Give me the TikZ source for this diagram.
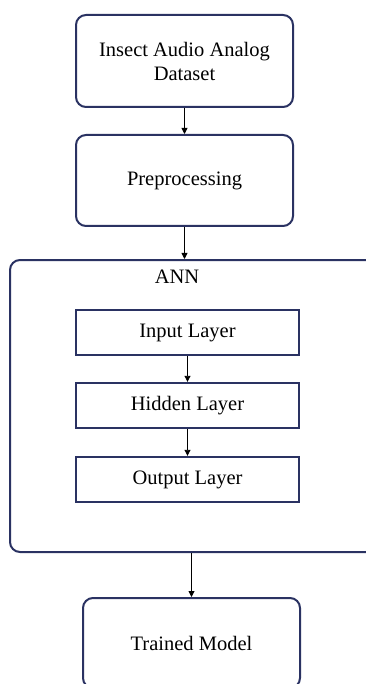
\documentclass[tikz,border=0pt]{standalone}
\usepackage{fontspec}
\setmainfont{Liberation Serif}
\usetikzlibrary{arrows.meta}
\definecolor{navy}{HTML}{2A3262}
\begin{document}
\begin{tikzpicture}[x=1pt,y=-1pt,
  rbox/.style={draw=navy, line width=2pt, rounded corners=10pt, fill=white, align=center,
    font=\fontsize{20.5}{24}\selectfont, inner sep=0pt},
  lbox/.style={draw=navy, line width=2.4pt, fill=white, align=center,
    font=\fontsize{20.5}{24}\selectfont, inner sep=0pt, minimum width=223pt, minimum height=45pt},
  arr/.style={draw=black, line width=0.9pt, -{Triangle[length=6pt,width=6pt]}}]
\useasboundingbox (0,0) rectangle (366,684);
\clip (0,0) rectangle (366,684);
\node[rbox, minimum width=217pt, minimum height=92pt] (data) at (184.5,61) {Insect Audio Analog\\Dataset};
\node[rbox, minimum width=217pt, minimum height=91pt] (prep) at (184.5,180.5) {Preprocessing};
\node[rbox, minimum width=366pt, minimum height=292pt] (ann) at (193,406) {};
\node[font=\fontsize{20.5}{24}\selectfont] (annlbl) at (177,277) {ANN};
\node[lbox] (inp) at (187.5,332.5) {Input Layer};
\node[lbox] (hid) at (187.5,405.5) {Hidden Layer};
\node[lbox] (out) at (187.5,479.5) {Output Layer};
\node[rbox, minimum width=217pt, minimum height=90pt] (trained) at (191.5,643) {Trained Model};
\draw[arr] (data.south) -- (prep.north);
\draw[arr] (prep.south) -- (prep.south |- ann.north);
\draw[arr] (inp.south) -- (hid.north);
\draw[arr] (hid.south) -- (out.north);
\draw[arr] (ann.south -| trained.north) -- (trained.north);
\end{tikzpicture}
\end{document}
